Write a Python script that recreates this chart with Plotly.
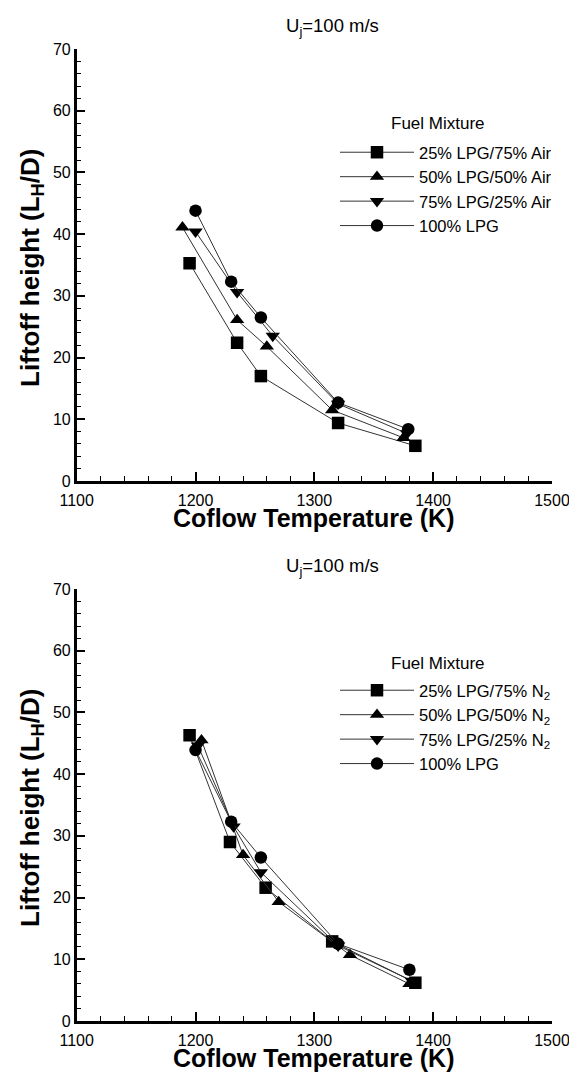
import plotly.graph_objects as go

# ---------------- data ----------------
labels_air = ["25% LPG/75% Air", "50% LPG/50% Air", "75% LPG/25% Air", "100% LPG"]
labels_n2 = ["25% LPG/75% N<sub>2</sub>", "50% LPG/50% N<sub>2</sub>", "75% LPG/25% N<sub>2</sub>", "100% LPG"]
symbols = ["square", "triangle-up", "triangle-down", "circle"]

# top panel (air dilution)
air_T = [
    [1195, 1235, 1255, 1320, 1385],
    [1189, 1235, 1260, 1315, 1375],
    [1200, 1235, 1265, 1320, 1378],
    [1200, 1230, 1255, 1320, 1379],
]
air_L = [
    [35.3, 22.4, 17.0, 9.4, 5.7],
    [41.1, 26.1, 21.8, 11.5, 7.0],
    [40.4, 30.6, 23.5, 12.5, 7.7],
    [43.8, 32.3, 26.5, 12.7, 8.4],
]

# bottom panel (N2 dilution)
n2_T = [
    [1195, 1229, 1259, 1315, 1385],
    [1205, 1240, 1270, 1330, 1380],
    [1202, 1232, 1255, 1320, 1382],
    [1200, 1230, 1255, 1320, 1380],
]
n2_L = [
    [46.3, 29.0, 21.6, 12.9, 6.2],
    [45.5, 26.9, 19.3, 10.7, 6.0],
    [44.6, 31.5, 24.1, 12.2, 6.5],
    [43.9, 32.3, 26.5, 12.5, 8.3],
]

x_range = [1100, 1500]
y_range = [0, 70]
title_text = "U<sub>j</sub>=100 m/s"
x_title = "Coflow Temperature (K)"
y_title = "Liftoff height (L<sub>H</sub>/D)"

W, H = 569, 1072
FONT = "Liberation Sans, Arial, sans-serif"

fig = go.Figure()

for i in range(4):
    fig.add_trace(go.Scatter(
        x=air_T[i], y=air_L[i], mode="lines+markers", name=labels_air[i],
        line=dict(color="#333333", width=1),
        marker=dict(symbol=symbols[i], size=12.5, color="black"),
        xaxis="x", yaxis="y", legend="legend"))
for i in range(4):
    fig.add_trace(go.Scatter(
        x=n2_T[i], y=n2_L[i], mode="lines+markers", name=labels_n2[i],
        line=dict(color="#333333", width=1),
        marker=dict(symbol=symbols[i], size=12.5, color="black"),
        xaxis="x2", yaxis="y2", legend="legend2"))

def px_x(p):
    return p / W

def px_y(p):
    return 1 - p / H

xdom = [px_x(76.7), px_x(552)]
top_dom = [px_y(481), px_y(49)]
bot_dom = [px_y(1021), px_y(589)]

def xaxis(anchor):
    return dict(
        domain=xdom, range=x_range, anchor=anchor, automargin=False,
        showline=True, linewidth=2.5, linecolor="black", mirror=False,
        ticks="inside", ticklen=9, tickwidth=2, tickcolor="black",
        dtick=100, tick0=1100,
        minor=dict(ticks="inside", ticklen=5, tickwidth=1, dtick=20, tickcolor="black"),
        showgrid=False, zeroline=False,
        tickfont=dict(family=FONT, size=16, color="black"),
        ticklabelstandoff=3, ticklabeloverflow="allow",
    )

def yaxis(anchor, dom):
    return dict(
        domain=dom, range=y_range, anchor=anchor, automargin=False,
        showline=True, linewidth=2.5, linecolor="black",
        ticks="inside", ticklen=9, tickwidth=2, tickcolor="black",
        dtick=10, tick0=0,
        minor=dict(ticks="inside", ticklen=5, tickwidth=1, dtick=2, tickcolor="black"),
        showgrid=False, zeroline=False,
        tickfont=dict(family=FONT, size=16, color="black"),
        ticklabeloverflow="allow",
    )

def legend(ytop):
    return dict(
        x=px_x(335), y=px_y(ytop), xanchor="left", yanchor="top",
        bgcolor="rgba(0,0,0,0)", borderwidth=0,
        font=dict(family=FONT, size=16.5, color="black"),
        itemwidth=74, tracegroupgap=0,
    )

annots = []
for off in (0, 540):
    annots += [
        dict(text=title_text, x=px_x(332), y=px_y(27 + off), xref="paper", yref="paper",
             xanchor="center", yanchor="middle",
             showarrow=False, font=dict(family=FONT, size=18.5, color="black")),
        dict(text="Fuel Mixture", x=px_x(389), y=px_y(123 + off), xref="paper", yref="paper",
             xanchor="left", yanchor="middle",
             showarrow=False, font=dict(family=FONT, size=17, color="black")),
        dict(text="<b>%s</b>" % x_title, x=px_x(314), y=px_y(518 + off), xref="paper", yref="paper",
             xanchor="center", yanchor="middle",
             showarrow=False, font=dict(family=FONT, size=25, color="black")),
        dict(text="<b>%s</b>" % y_title, x=px_x(31), y=px_y(268 + off), xref="paper", yref="paper",
             xanchor="center", yanchor="middle",
             textangle=-90, showarrow=False, font=dict(family=FONT, size=26, color="black")),
    ]

fig.update_layout(
    width=W, height=H, autosize=False,
    margin=dict(l=0, r=0, t=0, b=0, autoexpand=False),
    paper_bgcolor="white", plot_bgcolor="white",
    showlegend=True,
    xaxis=xaxis("y"),
    yaxis=yaxis("x", top_dom),
    xaxis2=xaxis("y2"),
    yaxis2=yaxis("x2", bot_dom),
    legend=legend(135),
    legend2=legend(673),
    annotations=annots,
)

fig.write_html(
    "out.html",
    config={"displayModeBar": False},
    post_script="document.body.style.margin='0';document.body.style.padding='0';"
                "document.documentElement.style.overflow='hidden';document.body.style.overflow='hidden';",
)
